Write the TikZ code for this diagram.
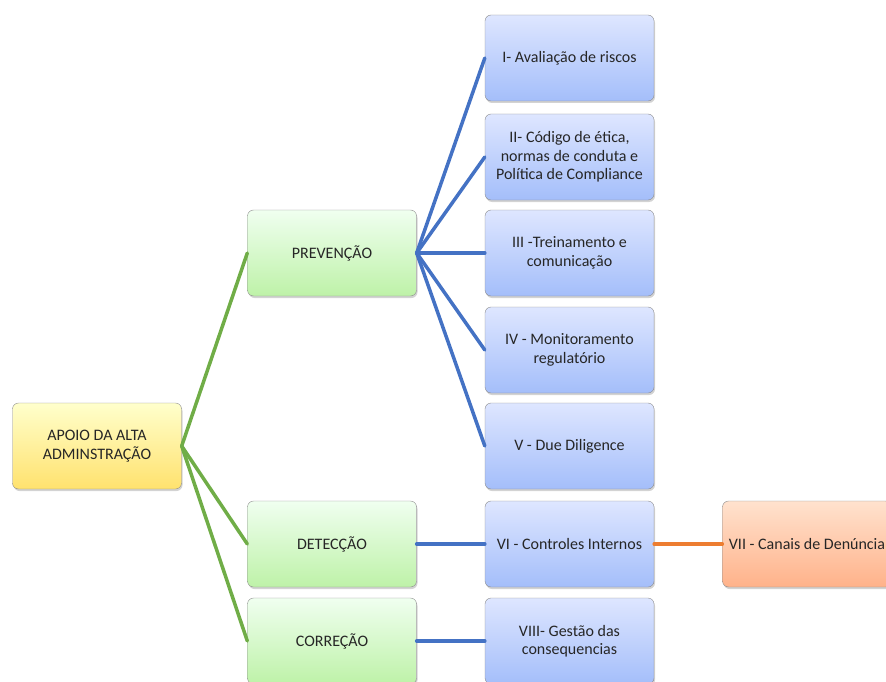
\documentclass[tikz,border=0pt]{standalone}
\usepackage{fontspec}
\setmainfont{Carlito}
\usetikzlibrary{shadows}
\begin{document}
\begin{tikzpicture}[x=1pt, y=-1pt, line join=round, line cap=round,
	font=\fontsize{16}{18.5}\selectfont,
	caixa/.style={draw=black!45, rounded corners=6pt, minimum width=169pt, minimum height=86pt,
		align=center, text=black!85, drop shadow={opacity=0.35, shadow xshift=1pt, shadow yshift=-2pt}},
	amarela/.style={caixa, top color=yellow!20, bottom color={rgb,255:red,255;green,226;blue,110}},
	verde/.style={caixa, top color=green!6, bottom color={rgb,255:red,190;green,242;blue,168}},
	azul/.style={caixa, top color={rgb,255:red,222;green,230;blue,255}, bottom color={rgb,255:red,164;green,190;blue,250}},
	laranja/.style={caixa, top color={rgb,255:red,255;green,226;blue,206}, bottom color={rgb,255:red,255;green,178;blue,138}},
	ligverde/.style={line width=3.5pt, draw={rgb,255:red,112;green,173;blue,71}},
	ligazul/.style={line width=3.5pt, draw={rgb,255:red,68;green,114;blue,196}},
	liglaranja/.style={line width=3.5pt, draw={rgb,255:red,237;green,125;blue,49}}]
	\useasboundingbox (0,0) rectangle (886,682);
	\def\xa{97} \def\xb{332} \def\xc{569.5}
	% caixas
	\node[amarela] (apoio) at (\xa,446) {APOIO DA ALTA\\ADMINSTRAÇÃO};
	\node[verde] (prev) at (\xb,253) {PREVENÇÃO};
	\node[verde] (det) at (\xb,544) {DETECÇÃO};
	\node[verde] (cor) at (\xb,641) {CORREÇÃO};
	\node[azul] (aval) at (\xc,58) {I- Avaliação de riscos};
	\node[azul] (cod) at (\xc,157) {II- Código de ética,\\normas de conduta e\\Política de Compliance};
	\node[azul] (trei) at (\xc,253) {III -Treinamento e\\comunicação};
	\node[azul] (mon) at (\xc,350) {IV - Monitoramento\\regulatório};
	\node[azul] (due) at (\xc,446) {V - Due Diligence};
	\node[azul] (ctrl) at (\xc,544) {VI - Controles Internos};
	\node[azul] (gest) at (\xc,641) {VIII- Gestão das\\consequencias};
	\node[laranja] (can) at (807,544) {VII - Canais de Denúncia};
	% ligacoes
	\foreach \n in {prev,det,cor}
	\draw[ligverde] (apoio.east)--(\n.west);
	\foreach \n in {aval,cod,trei,mon,due}
	\draw[ligazul] (prev.east)--(\n.west);
	\draw[ligazul] (det)--(ctrl);
	\draw[ligazul] (cor)--(gest);
	\draw[liglaranja] (ctrl)--(can);
\end{tikzpicture}
\end{document}
